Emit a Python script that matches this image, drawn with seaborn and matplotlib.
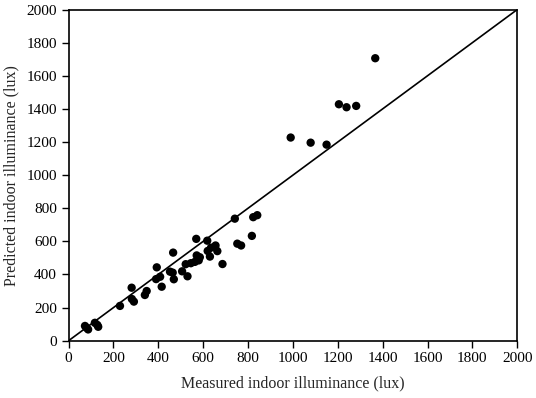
import matplotlib
matplotlib.use("Agg")
import matplotlib.pyplot as plt
import pandas as pd
import seaborn as sns

# measured vs predicted indoor illuminance (lux)
measured = [
    73, 80, 87, 117, 128, 132, 229, 281, 282, 291, 340, 348,
    393, 390, 408, 415, 452, 464, 466, 469, 506, 530,
    522, 545, 563, 580, 571, 585, 569, 618, 620, 635, 630, 663, 655, 686,
    741, 752, 769, 817, 823, 841,
    990, 1079, 1150, 1205, 1239, 1282, 1367,
]
predicted = [
    89, 78, 68, 108, 95, 84, 210, 320, 252, 236, 276, 300,
    443, 372, 386, 326, 417, 411, 532, 371, 419, 389,
    462, 468, 476, 485, 515, 504, 615, 604, 542, 562, 508, 541, 575, 463,
    737, 586, 575, 633, 746, 758,
    1227, 1196, 1184, 1428, 1410, 1418, 1706,
]

# 1:1 reference line
line_x = [0, 2000]
line_y = [0, 2000]

ticks = list(range(0, 2001, 200))

df = pd.DataFrame({"measured": measured, "predicted": predicted})

sns.set_style("ticks")
plt.rcParams["font.family"] = ["Liberation Serif", "DejaVu Serif"]

fig = plt.figure(figsize=(5.36, 3.98), dpi=100)
ax = fig.add_axes([0.128, 0.144, 0.837, 0.832])

sns.lineplot(x=line_x, y=line_y, ax=ax, color="black", linewidth=1.2)
sns.scatterplot(
    data=df,
    x="measured",
    y="predicted",
    ax=ax,
    color="black",
    s=36,
    edgecolor="none",
    zorder=3,
)

ax.set_xlim(0, 2000)
ax.set_ylim(0, 2000)
ax.set_xticks(ticks)
ax.set_yticks(ticks)
ax.tick_params(direction="out", length=5, width=1, labelsize=11, colors="black")
for spine in ax.spines.values():
    spine.set_linewidth(1.2)
    spine.set_color("black")

ax.set_xlabel("Measured indoor illuminance (lux)", fontsize=11.5, labelpad=7)
ax.set_ylabel("Predicted indoor illuminance (lux)", fontsize=11.5, labelpad=5)

fig.savefig("out.png", dpi=100)
